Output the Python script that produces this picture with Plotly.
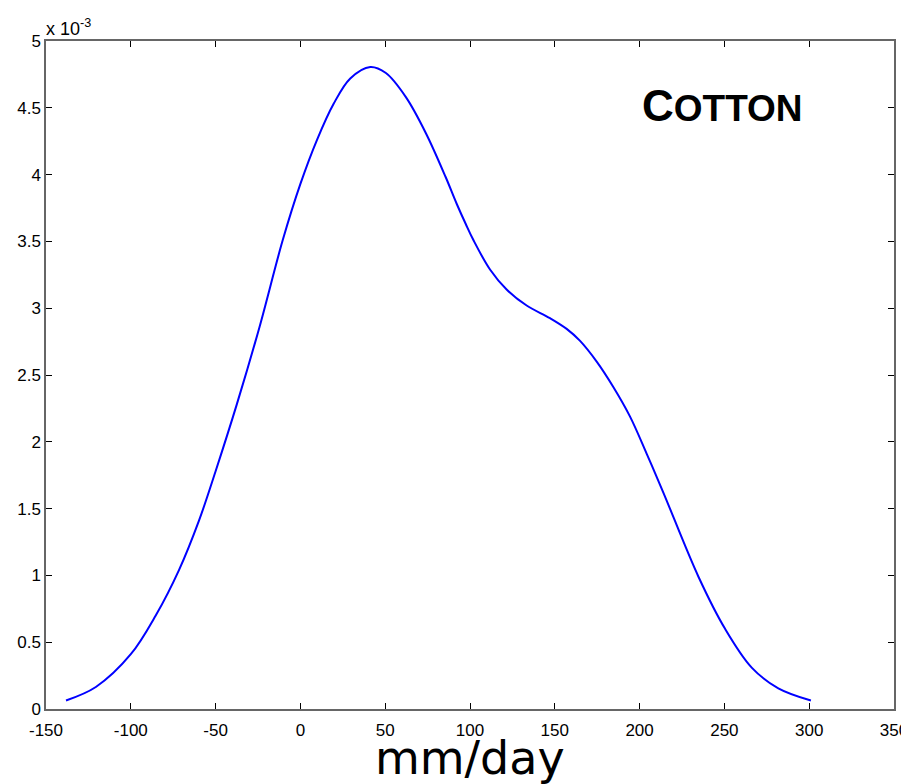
import plotly.graph_objects as go

# Density curve (y in units of 1e-3)
x_vals = [-138.2, -120.6, -100.0, -85.3, -71.6, -59.8, -50.0, -37.5, -24.1, -10.4,
          0.0, 9.8, 19.6, 29.4, 41.2, 50.4, 62.2, 74.0, 85.7, 92.2, 97.5, 102.0,
          111.8, 121.6, 133.4, 147.2, 157.0, 164.9, 174.7, 184.5, 194.3, 204.2,
          214.0, 234.7, 250.4, 266.1, 281.8, 301.0]
y_vals = [0.064, 0.165, 0.41, 0.70, 1.04, 1.41, 1.78, 2.28, 2.86, 3.51,
          3.93, 4.26, 4.53, 4.72, 4.806, 4.76, 4.58, 4.31, 3.98, 3.78, 3.63, 3.51,
          3.29, 3.14, 3.02, 2.925, 2.845, 2.755, 2.60, 2.41, 2.19, 1.91,
          1.62, 0.99, 0.60, 0.31, 0.155, 0.064]

x_ticks = [-150, -100, -50, 0, 50, 100, 150, 200, 250, 300, 350]
x_tick_labels = ["-150", "-100", "-50", "0", "50", "100", "150", "200", "250", "300", "350"]
y_ticks = [0, 0.5, 1, 1.5, 2, 2.5, 3, 3.5, 4, 4.5, 5]
y_tick_labels = ["0", "0.5", "1", "1.5", "2", "2.5", "3", "3.5", "4", "4.5", "5"]

fig = go.Figure()
fig.add_trace(go.Scatter(x=x_vals, y=y_vals, mode="lines",
                         line=dict(color="#0000FF", width=2, shape="spline", smoothing=1.0),
                         showlegend=False, hoverinfo="skip"))

axis_common = dict(showgrid=False, zeroline=False, showline=True, linecolor="#666666",
                   linewidth=1.5, mirror="allticks", ticks="inside", ticklen=6,
                   tickcolor="#000000", tickwidth=1, automargin=False,
                   tickfont=dict(family="Liberation Sans, Arial", size=17, color="#000000"))

fig.update_xaxes(range=[-150, 350], tickvals=x_ticks, ticktext=x_tick_labels,
                 ticklabelstandoff=5, **axis_common)
fig.update_yaxes(range=[0, 5], tickvals=y_ticks, ticktext=y_tick_labels, **axis_common)

fig.add_annotation(text="x 10<sup>-3</sup>", xref="paper", yref="paper", x=-0.002, y=1.0,
                   xanchor="left", yanchor="bottom", showarrow=False,
                   font=dict(family="Liberation Sans, Arial", size=18, color="#000000"))

fig.add_annotation(text="<b><span style='font-size:44px'>C</span>OTTON</b>",
                   xref="paper", yref="paper", x=0.798, y=0.904,
                   xanchor="center", yanchor="middle", showarrow=False,
                   font=dict(family="Liberation Sans, Arial", size=37, color="#000000"))

fig.add_annotation(text="mm/day", xref="paper", yref="paper", x=0.5, y=-0.117,
                   xanchor="center", yanchor="bottom", showarrow=False,
                   font=dict(family="DejaVu Sans", size=46, color="#000000"))

# page body has an 8px default margin, so the figure is sized to fit the window
fig.update_layout(width=901, height=776, plot_bgcolor="white", paper_bgcolor="white",
                  margin=dict(l=38, r=15, t=33, b=75))

fig.write_html("out.html")
